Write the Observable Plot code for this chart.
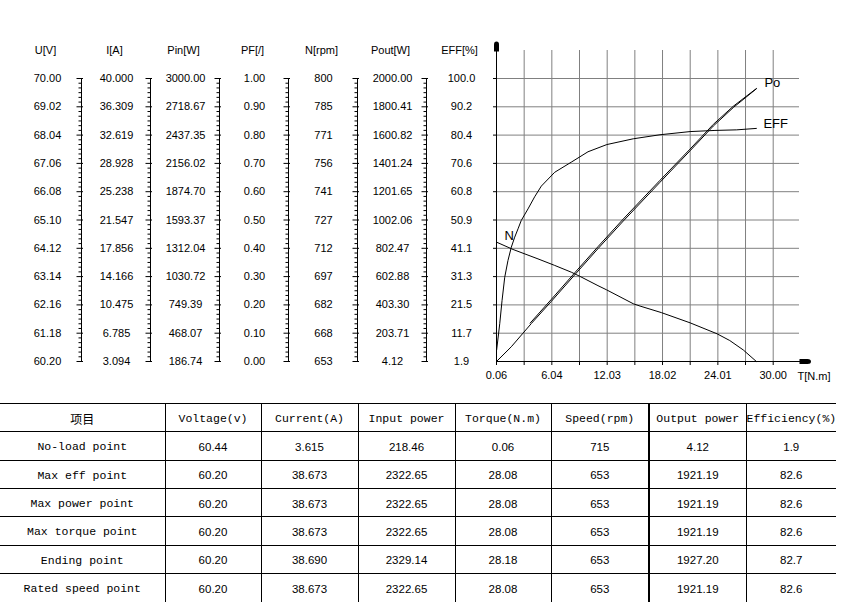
<!DOCTYPE html>
<html>
<head>
<meta charset="utf-8">
<script src="https://cdn.jsdelivr.net/npm/d3@7"></script>
<script src="https://cdn.jsdelivr.net/npm/@observablehq/plot@0.6"></script>
<style>
html, body { margin: 0; padding: 0; background: #fff; }
#wrap { position: relative; width: 854px; height: 603px; overflow: hidden; background: #fff; }
#chart, #axes { position: absolute; left: 0; top: 0; }
#tbl { position: absolute; left: 0; top: 403px; }
table { border-collapse: collapse; table-layout: fixed; width: 836px; }
td { height: 28.33px; padding: 2px 0 0 0; box-sizing: border-box; text-align: center; vertical-align: middle;
     border-top: 1px solid #000; border-left: 1px solid #000; color: #000; white-space: nowrap; overflow: hidden; }
td:first-child { border-left: none; }
td.mono { font-family: "Liberation Mono", "DejaVu Sans Mono", monospace; font-size: 11.5px; }
td.cjk { font-family: "Noto Sans CJK SC", sans-serif; font-size: 12px; }
td.num { font-family: "Liberation Sans", Arial, sans-serif; font-size: 11.5px; }
td.thick { border-left: 2px solid #000; }
</style>
</head>
<body>
<div id="wrap"><div id="chart"></div><div id="axes"></div><div id="tbl"></div></div>
<script>
// ---------- axis definitions ----------
const axisNames = ["U[V]", "I[A]", "Pin[W]", "PF[/]", "N[rpm]", "Pout[W]", "EFF[%]"];
const axisMin = [60.20, 3.094, 186.74, 0.00, 653, 4.12, 1.9];
const axisMax = [70.00, 40.000, 3000.00, 1.00, 800, 2000.00, 100.0];

// ---------- tick labels ----------
const uTicks = ["70.00", "69.02", "68.04", "67.06", "66.08", "65.10", "64.12", "63.14", "62.16", "61.18", "60.20"];
const iTicks = ["40.000", "36.309", "32.619", "28.928", "25.238", "21.547", "17.856", "14.166", "10.475", "6.785", "3.094"];
const pinTicks = ["3000.00", "2718.67", "2437.35", "2156.02", "1874.70", "1593.37", "1312.04", "1030.72", "749.39", "468.07", "186.74"];
const pfTicks = ["1.00", "0.90", "0.80", "0.70", "0.60", "0.50", "0.40", "0.30", "0.20", "0.10", "0.00"];
const nTicks = ["800", "785", "771", "756", "741", "727", "712", "697", "682", "668", "653"];
const poutTicks = ["2000.00", "1800.41", "1600.82", "1401.24", "1201.65", "1002.06", "802.47", "602.88", "403.30", "203.71", "4.12"];
const effTicks = ["100.0", "90.2", "80.4", "70.6", "60.8", "50.9", "41.1", "31.3", "21.5", "11.7", "1.9"];
const tDomain = [0.06, 30.00];
const xTickLabels = ["0.06", "", "6.04", "", "12.03", "", "18.02", "", "24.01", "", "30.00"];
const xAxisTitle = "T[N.m]";

// ---------- curves (torque T in N.m vs value) ----------
const effT =   [0.08, 0.41, 0.66, 0.95, 1.30, 1.66, 2.03, 2.39, 2.74, 3.47, 4.19, 4.91, 6.36, 8.15, 9.96, 12.0, 14.86, 17.75, 21.0, 23.7, 26.05, 28.18];
const effPct = [6.0, 15.0, 23.0, 31.1, 36.9, 41.5, 45.0, 47.9, 50.8, 54.8, 59.0, 62.7, 67.5, 71.0, 74.6, 77.1, 79.1, 80.5, 81.6, 82.0, 82.2, 82.7];

const nT =   [0.06, 1.85, 4.55, 6.36, 8.15, 9.10, 11.04, 11.98, 14.86, 15.59, 17.9, 21.0, 23.92, 25.3, 26.76, 28.18];
const nRpm = [715.0, 711.2, 706.3, 702.9, 699.4, 697.2, 692.4, 690.2, 683.0, 681.8, 678.4, 673.1, 667.4, 663.9, 659.0, 653.0];

const poT =   [0.06, 1.66, 3.83, 5.99, 8.52, 11.04, 13.78, 17.75, 21.0, 23.52, 25.68, 28.18];
const poutW = [4.12, 108, 272, 428, 615, 800, 995, 1268, 1490, 1665, 1795, 1927.2];

const iT =   [3.70, 5.99, 8.52, 11.04, 13.78, 17.75, 21.0, 23.52, 25.68, 28.18];
const iAmp = [8.10, 11.19, 14.65, 18.07, 21.68, 26.72, 30.79, 34.02, 36.38, 38.69];

const curveLabels = ["Po", "EFF", "N"];

// ---------- table ----------
const tableHeader = ["项目", "Voltage(v)", "Current(A)", "Input power", "Torque(N.m)", "Speed(rpm)", "Output power", "Efficiency(%)"];
const rowNames = ["No-load point", "Max eff point", "Max power point", "Max torque point", "Ending point", "Rated speed point"];
const voltage = ["60.44", "60.20", "60.20", "60.20", "60.20", "60.20"];
const current = ["3.615", "38.673", "38.673", "38.673", "38.690", "38.673"];
const inputPower = ["218.46", "2322.65", "2322.65", "2322.65", "2329.14", "2322.65"];
const torque = ["0.06", "28.08", "28.08", "28.08", "28.18", "28.08"];
const speed = ["715", "653", "653", "653", "653", "653"];
const outputPower = ["4.12", "1921.19", "1921.19", "1921.19", "1927.20", "1921.19"];
const efficiency = ["1.9", "82.6", "82.6", "82.6", "82.7", "82.6"];

// ---------- helpers ----------
const sans = '"Liberation Sans", Arial, sans-serif';
const toU = (v, k) => (v - axisMin[k]) / (axisMax[k] - axisMin[k]) * 10; // grid units 0..10
const mk = (Ts, Vs, k) => Ts.map((t, i) => ({T: t, u: toU(Vs[i], k)}));
const effData = mk(effT, effPct, 6);
const nData = mk(nT, nRpm, 4);
const poData = mk(poT, poutW, 5);
const iData = mk(iT, iAmp, 1);
const levels = d3.range(0, 11);
const xGrid = levels.map(k => tDomain[0] + k * (tDomain[1] - tDomain[0]) / 10);

const upArrow = {draw(c) { c.moveTo(-2.5, 6); c.lineTo(-2.5, -1); c.quadraticCurveTo(-2.5, -4, 0, -4); c.quadraticCurveTo(2.5, -4, 2.5, -1); c.lineTo(2.5, 6); c.closePath(); }};
const rightArrow = {draw(c) { c.moveTo(-7, -2.5); c.lineTo(1, -2.5); c.quadraticCurveTo(4.5, -2.5, 4.5, 0); c.quadraticCurveTo(4.5, 2.5, 1, 2.5); c.lineTo(-7, 2.5); c.closePath(); }};

// ---------- main chart ----------
const chart = Plot.plot({
  width: 854, height: 395,
  marginLeft: 496, marginRight: 48, marginTop: 45, marginBottom: 34,
  style: {background: "transparent", color: "#000", fontFamily: sans, fontSize: "11px"},
  x: {domain: tDomain, range: [496, 772.7], ticks: xGrid, tickSize: 4, tickPadding: 6,
      tickFormat: d => xTickLabels[xGrid.indexOf(d)] ?? "", label: null},
  y: {domain: [0, 10], range: [361, 78], ticks: d3.range(1, 11), tickSize: 3, tickFormat: () => "", label: null},
  marks: [
    Plot.ruleY(d3.range(1, 11), {stroke: "#808080", strokeWidth: 1, insetRight: 7}),
    Plot.ruleX(xGrid.slice(1), {stroke: "#808080", strokeWidth: 1, insetTop: 5}),
    Plot.ruleY([0], {stroke: "#000", strokeWidth: 1}),
    Plot.ruleX([tDomain[0]], {stroke: "#000", strokeWidth: 1}),
    Plot.line(effData, {x: "T", y: "u", stroke: "#000", strokeWidth: 1}),
    Plot.line(nData, {x: "T", y: "u", stroke: "#000", strokeWidth: 1}),
    Plot.line(poData, {x: "T", y: "u", stroke: "#000", strokeWidth: 1}),
    Plot.line(iData, {x: "T", y: "u", stroke: "#000", strokeWidth: 1}),
    Plot.text([poData[poData.length - 1]], {x: "T", y: "u", text: () => curveLabels[0], dx: 8, dy: -6, textAnchor: "start", fontSize: 13}),
    Plot.text([effData[effData.length - 1]], {x: "T", y: "u", text: () => curveLabels[1], dx: 7, dy: -4.5, textAnchor: "start", fontSize: 13}),
    Plot.text([nData[0]], {x: "T", y: "u", text: () => curveLabels[2], dx: 8, dy: -6, textAnchor: "start", fontSize: 13}),
    Plot.dot([0], {x: null, y: null, frameAnchor: "top-left", symbol: upArrow, fill: "#000", stroke: "none"}),
    Plot.dot([0], {x: null, y: null, frameAnchor: "bottom-right", symbol: rightArrow, fill: "#000", stroke: "none"}),
    Plot.text([xAxisTitle], {x: null, y: null, frameAnchor: "bottom-right", text: d => d, dx: -9, dy: 15, textAnchor: "start", lineAnchor: "middle"})
  ]
});
document.getElementById("chart").appendChild(chart);

// ---------- left multi-axis panel ----------
const tickLabels = [uTicks, iTicks, pinTicks, pfTicks, nTicks, poutTicks, effTicks];
const leftLabels = tickLabels.flatMap((arr, k) => arr.map((s, i) => ({col: axisNames[k], u: 10 - i, s})));
const axisCols = axisNames.slice(0, 6);
const majorTicks = axisCols.flatMap(col => levels.map(u => ({col, u})));
const minorTicks = axisCols.flatMap(col => d3.range(0, 60).filter(j => j % 6 !== 0).map(j => ({col, u: j / 6})));
const majorSym = {draw(c) { c.moveTo(-5, 0); c.lineTo(1.5, 0); }};
const minorSym = {draw(c) { c.moveTo(-3, 0); c.lineTo(0, 0); }};

const axesPanel = Plot.plot({
  width: 490, height: 395,
  marginLeft: 0, marginRight: 0, marginTop: 78, marginBottom: 34,
  style: {background: "transparent", color: "#000", fontFamily: sans, fontSize: "11px"},
  x: {type: "point", domain: axisNames, range: [46, 461.5], padding: 0, axis: null},
  y: {domain: [0, 10], range: [361, 78], axis: null},
  marks: [
    Plot.text(leftLabels, {x: "col", y: "u", text: "s", lineAnchor: "middle"}),
    Plot.text(axisNames, {x: d => d, frameAnchor: "top", text: d => d, dx: -2, dy: -28, lineAnchor: "middle"}),
    Plot.ruleX(axisCols, {x: d => d, y1: 0, y2: 10, dx: 34, stroke: "#000", strokeWidth: 1}),
    Plot.dot(majorTicks, {x: "col", y: "u", dx: 34, symbol: majorSym, stroke: "#000", fill: "none", strokeWidth: 1}),
    Plot.dot(minorTicks, {x: "col", y: "u", dx: 34, symbol: minorSym, stroke: "#000", fill: "none", strokeWidth: 1})
  ]
});
document.getElementById("axes").appendChild(axesPanel);

// ---------- table ----------
const colWidths = [165, 96, 97, 97, 96, 98, 97, 90];
const columns = [voltage, current, inputPower, torque, speed, outputPower, efficiency];
const table = document.createElement("table");
const cg = document.createElement("colgroup");
colWidths.forEach(w => { const c = document.createElement("col"); c.style.width = w + "px"; cg.appendChild(c); });
table.appendChild(cg);
const hr = document.createElement("tr");
tableHeader.forEach((h, j) => {
  const td = document.createElement("td");
  td.textContent = h;
  td.className = j === 0 ? "cjk" : "mono";
  if (j === 6) td.classList.add("thick");
  hr.appendChild(td);
});
table.appendChild(hr);
rowNames.forEach((name, i) => {
  const tr = document.createElement("tr");
  const td0 = document.createElement("td");
  td0.textContent = name; td0.className = "mono";
  tr.appendChild(td0);
  columns.forEach((col, j) => {
    const td = document.createElement("td");
    td.textContent = col[i]; td.className = "num";
    if (j === 5) td.classList.add("thick");
    tr.appendChild(td);
  });
  table.appendChild(tr);
});
document.getElementById("tbl").appendChild(table);
</script>
</body>
</html>
